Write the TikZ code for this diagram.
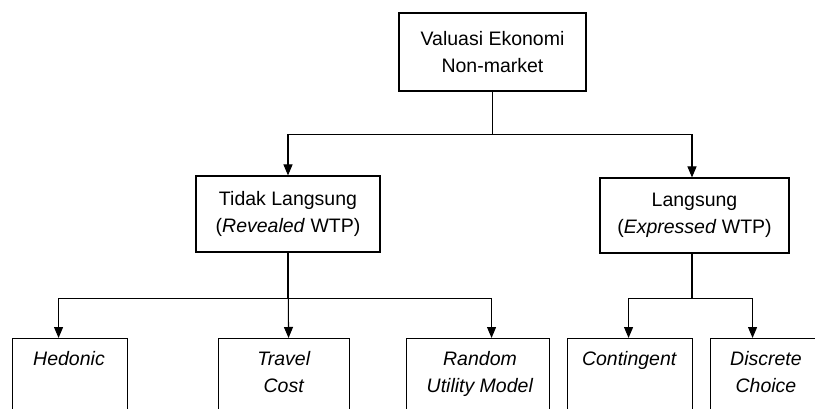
\documentclass[tikz,border=0pt]{standalone}
\usepackage{fontspec}
\setmainfont{Liberation Sans}
\usetikzlibrary{arrows.meta}
\tikzset{
  box/.style={draw, line width=1.1pt, inner sep=0pt, align=center,
    font=\fontsize{19.5}{27.5}\selectfont},
  txt/.style={inner sep=0pt, align=center, font=\fontsize{19.5}{27.5}\selectfont},
  arr/.style={line width=1.1pt, -{Triangle[width=9pt,length=11pt]}},
}
\begin{document}
\begin{tikzpicture}[x=1pt,y=-1pt]
\useasboundingbox (0,0) rectangle (815,409);
\clip (0,0) rectangle (815,409);
% top
\node[box, minimum width=187pt, minimum height=78pt] (top) at (492.5,52) {Valuasi Ekonomi\\Non-market};
% middle
\node[box, minimum width=184pt, minimum height=76pt] (ind) at (288,214) {Tidak Langsung\\(\textit{Revealed} WTP)};
\node[box, minimum width=189pt, minimum height=75pt] (dir) at (694.5,215.5) {Langsung\\(\textit{Expressed} WTP)};
% bottom boxes
\node[box, anchor=north west, minimum width=115pt, minimum height=120pt] (hed) at (12,338) {};
\node[box, anchor=north west, minimum width=131pt, minimum height=120pt] (tc) at (218,338) {};
\node[box, anchor=north west, minimum width=143pt, minimum height=120pt] (rum) at (406,338) {};
\node[box, anchor=north west, minimum width=125pt, minimum height=120pt] (con) at (567,338) {};
\node[box, anchor=north west, minimum width=113pt, minimum height=120pt] (dc) at (710,338) {};
% bottom texts
\node[txt, anchor=north] (hedt) at (69,351) {\textit{Hedonic}};
\node[txt, anchor=north] (tct) at (284,351) {\textit{Travel}\\\textit{Cost}};
\node[txt, anchor=north] (rumt) at (480,351) {\textit{Random}\\\textit{Utility Model}};
\node[txt, anchor=north] (cont) at (629.5,351) {\textit{Contingent}};
\node[txt, anchor=north] (dct) at (766,351) {\textit{Discrete}\\\textit{Choice}};
% connectors top level
\draw[arr] (top.south) -- ++(0,43) -| (ind.north);
\draw[arr] (top.south) -- ++(0,43) -| ([xshift=-2.5pt]dir.north);
% connectors from ind
\draw[arr] (ind.south) -- ++(0,46) -| ([xshift=-11.5pt]hed.north);
\draw[arr] (ind.south) -- ([xshift=4.5pt]tc.north);
\draw[arr] (ind.south) -- ++(0,46) -| ([xshift=13.5pt]rum.north);
% connectors from dir
\draw[arr] ([xshift=-2.5pt]dir.south) -- ++(0,45) -| ([xshift=-1.5pt]con.north);
\draw[arr] ([xshift=-2.5pt]dir.south) -- ++(0,45) -| ([xshift=-14.5pt]dc.north);
\end{tikzpicture}
\end{document}
